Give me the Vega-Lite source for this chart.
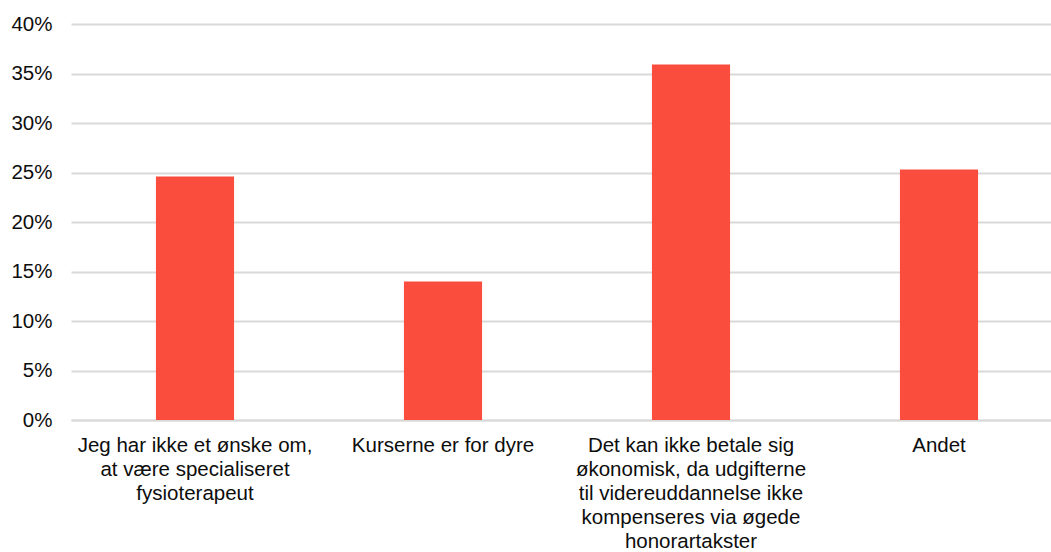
{
  "$schema": "https://vega.github.io/schema/vega-lite/v6.json",
  "width": 980,
  "height": 396,
  "autosize": {"type": "none"},
  "padding": {"left": 71, "top": 24, "right": 0, "bottom": 132},
  "background": "white",
  "data": {
    "values": [
      {"kategori": "Jeg har ikke et ønske om,\nat være specialiseret\nfysioterapeut", "andel": 0.246},
      {"kategori": "Kurserne er for dyre", "andel": 0.140},
      {"kategori": "Det kan ikke betale sig\nøkonomisk, da udgifterne\ntil videreuddannelse ikke\nkompenseres via øgede\nhonorartakster", "andel": 0.359},
      {"kategori": "Andet", "andel": 0.253}
    ]
  },
  "config": {
    "view": {"stroke": null},
    "font": "Liberation Sans"
  },
  "mark": {"type": "bar", "color": "#FA4D3D"},
  "encoding": {
    "x": {
      "field": "kategori",
      "type": "nominal",
      "sort": null,
      "scale": {"paddingInner": 0.685, "paddingOuter": 0.3425, "range": [0, 992]},
      "axis": {
        "title": null,
        "labelAngle": 0,
        "labelExpr": "split(datum.label, '\\n')",
        "labelFontSize": 20.5,
        "labelLineHeight": 24,
        "labelColor": "#0d0d0d",
        "labelPadding": 15,
        "labelBaseline": "top",
        "labelOverlap": false,
        "ticks": false,
        "domain": true,
        "domainColor": "#d9d9d9",
        "domainWidth": 2,
        "labelLimit": 0
      }
    },
    "y": {
      "field": "andel",
      "type": "quantitative",
      "scale": {"domain": [0, 0.4]},
      "axis": {
        "title": null,
        "format": ".0%",
        "values": [0, 0.05, 0.1, 0.15, 0.2, 0.25, 0.3, 0.35, 0.4],
        "labelFontSize": 20.5,
        "labelColor": "#0d0d0d",
        "labelPadding": 19,
        "labelOverlap": false,
        "labelFlush": false,
        "ticks": false,
        "domain": false,
        "grid": true,
        "gridColor": "#d9d9d9",
        "gridWidth": 2
      }
    }
  }
}
